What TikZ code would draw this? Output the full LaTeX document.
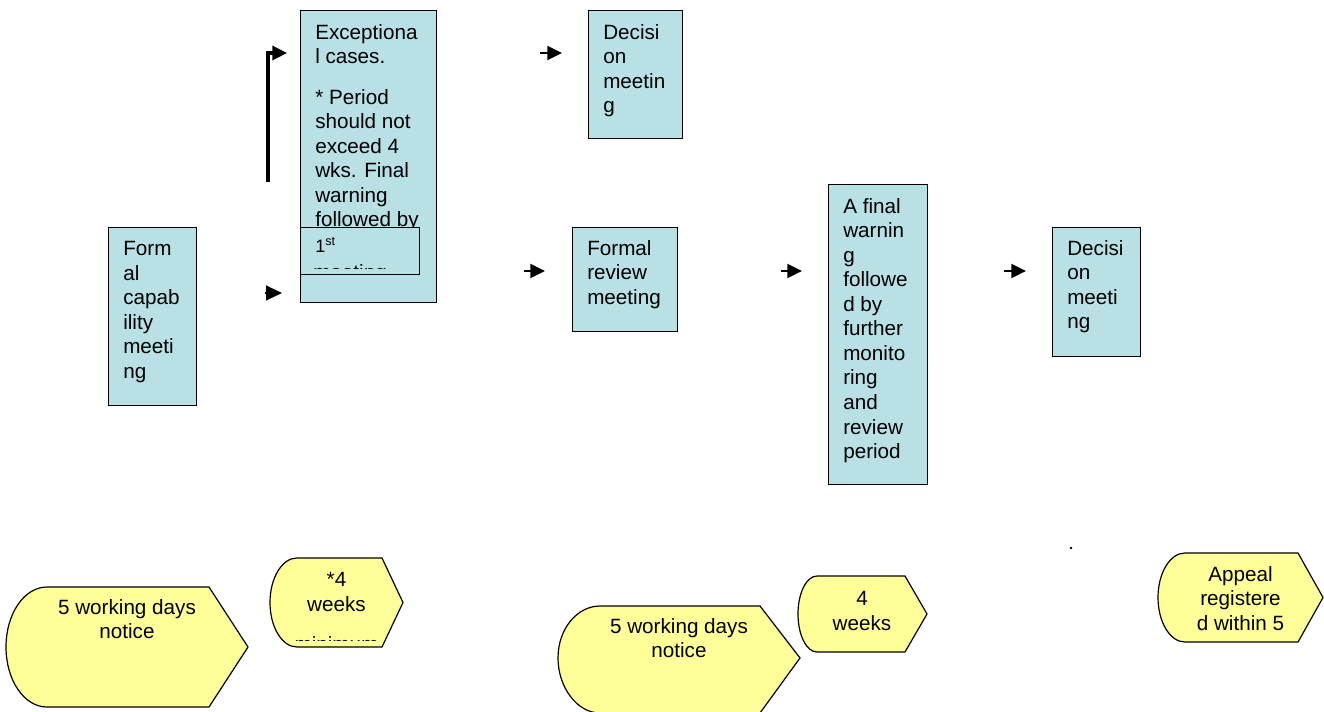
\documentclass[tikz,border=0pt]{standalone}
\usepackage{fontspec}
\setmainfont{Liberation Sans}
\usetikzlibrary{arrows.meta,positioning}
\definecolor{boxblue}{HTML}{B9E0E4}
\definecolor{noteyellow}{HTML}{FFFF99}

\begin{document}
\begin{tikzpicture}[x=0.75pt,y=-0.75pt,
  box/.style={rectangle,draw=black,fill=boxblue,line width=0.9pt,
              anchor=north west,inner sep=0pt},
  boxtext/.style={anchor=north west,inner sep=0pt,align=left,
              font=\fontsize{15.5}{18.4}\selectfont},
  notice/.style={draw=black,fill=noteyellow,line width=0.9pt},
  noticetext/.style={anchor=north,inner sep=0pt,align=center,
              font=\fontsize{15.5}{18.4}\selectfont},
  arr/.style={-{Triangle[length=11pt,width=10.5pt]},line width=1.6pt}
]
  \useasboundingbox (0,0) rectangle (1324,711);

  % ---- Process boxes ------------------------------------------
  \node[box,minimum width=66pt,minimum height=133.5pt] (formalcap) at (108,227) {};
  \node[boxtext] (formalcaptxt) at ([shift={(15,14)}]formalcap.north west)
    {Form\\al\\capab\\ility\\meeti\\ng};

  \node[box,minimum width=102pt,minimum height=219pt] (exceptional) at (300,10) {};
  \node[boxtext] (exceptionaltxt) at ([shift={(15,14)}]exceptional.north west)
    {Exceptiona\\l cases.\\[12pt]{*} Period\\should not\\exceed 4\\wks. Final\\warning\\followed by};

  \node[box,minimum width=89.25pt,minimum height=35.25pt] (firstmeet) at (300,227) {};
  \node[anchor=base west,inner sep=0pt,font=\fontsize{13.5}{16}\selectfont]
    (firstmeettxt) at (315,252) {1\textsuperscript{st}};
  \begin{scope}
    \clip (300,227) rectangle (419,268);
    \node[anchor=base west,inner sep=0pt,font=\fontsize{15.5}{18.4}\selectfont]
      (firstmeetcut) at (313,279.2) {meeting};
  \end{scope}

  \node[box,minimum width=70.5pt,minimum height=96pt] (decisiontop) at (588,10) {};
  \node[boxtext] (decisiontoptxt) at ([shift={(15,14)}]decisiontop.north west)
    {Decisi\\on\\meetin\\g};

  \node[box,minimum width=78.75pt,minimum height=78pt] (formalreview) at (572,227) {};
  \node[boxtext] (formalreviewtxt) at ([shift={(15,13)}]formalreview.north west)
    {Formal\\review\\meeting};

  \node[box,minimum width=74.25pt,minimum height=225pt] (finalwarn) at (828,184) {};
  \node[boxtext] (finalwarntxt) at ([shift={(15,14)}]finalwarn.north west)
    {A final\\warnin\\g\\followe\\d by\\further\\monito\\ring\\and\\review\\period};

  \node[box,minimum width=66pt,minimum height=96.75pt] (decisionright) at (1052,227) {};
  \node[boxtext] (decisionrighttxt) at ([shift={(15,13)}]decisionright.north west)
    {Decisi\\on\\meeti\\ng};

  % ---- Arrows -------------------------------------------------
  \coordinate (upstart) at (268,182);
  \coordinate (upturn)  at (268,53);
  \coordinate (upend)   at (287,53);
  \draw[arr,line width=2.4pt] (upstart) -- (upturn) -- (upend);

  \coordinate (capa) at (265,293);
  \coordinate (capb) at (282,293);
  \draw[-{Triangle[length=12pt,width=11pt]},line width=1.6pt] (capa) -- (capb);

  \coordinate (deca) at (540,53);
  \coordinate (decb) at (562,53);
  \draw[arr] (deca) -- (decb);

  \coordinate (reva) at (524,271);
  \coordinate (revb) at (545,271);
  \draw[arr] (reva) -- (revb);

  \coordinate (fina) at (781,271);
  \coordinate (finb) at (802,271);
  \draw[arr] (fina) -- (finb);

  \coordinate (decra) at (1004,271);
  \coordinate (decrb) at (1026,271);
  \draw[arr] (decra) -- (decrb);

  % ---- Time notes (bottom row) --------------------------------
  \draw[notice] (47,587) -- (209,587) -- (248,647) -- (209,707) -- (47,707)
    .. controls (24,707) and (6,680) .. (6,647)
    .. controls (6,614) and (24,587) .. (47,587) -- cycle;
  \node[noticetext] (notice1) at (127,599) {5 working days\\notice};

  \draw[notice] (297,558) -- (382,558) -- (403,602.5) -- (382,647) -- (297,647)
    .. controls (282,647) and (270,627) .. (270,602.5)
    .. controls (270,578) and (282,558) .. (297,558) -- cycle;
  \node[noticetext] (weeks1) at (336.5,572) {*4\\weeks};
  \begin{scope}
    \clip (270,558) rectangle (403,640.5);
    \node[anchor=base,inner sep=0pt,font=\fontsize{15.5}{18.4}\selectfont]
      (weeks1cut) at (336.5,651.5) {minimum};
  \end{scope}

  \draw[notice] (600,606) -- (760,606) -- (800,658) -- (760,713) -- (600,713)
    .. controls (577,713) and (558,687) .. (558,658)
    .. controls (558,629) and (577,606) .. (600,606) -- cycle;
  \node[noticetext] (notice2) at (679,618) {5 working days\\notice};

  \draw[notice] (817,576) -- (905,576) -- (927,614) -- (905,652) -- (817,652)
    .. controls (806.5,652) and (798,635) .. (798,614)
    .. controls (798,593) and (806.5,576) .. (817,576) -- cycle;
  \node[noticetext] (weeks2) at (862,591) {4\\weeks};

  \draw[notice] (1185,553) -- (1298,553) -- (1323,597.5) -- (1298,642) -- (1185,642)
    .. controls (1170,642) and (1158,622) .. (1158,597.5)
    .. controls (1158,573) and (1170,553) .. (1185,553) -- cycle;
  \node[noticetext] (appeal) at (1240.5,566) {Appeal\\registere\\d within 5};

  % stray dot
  \fill (1071,548) circle[radius=1pt];

\end{tikzpicture}
\end{document}
